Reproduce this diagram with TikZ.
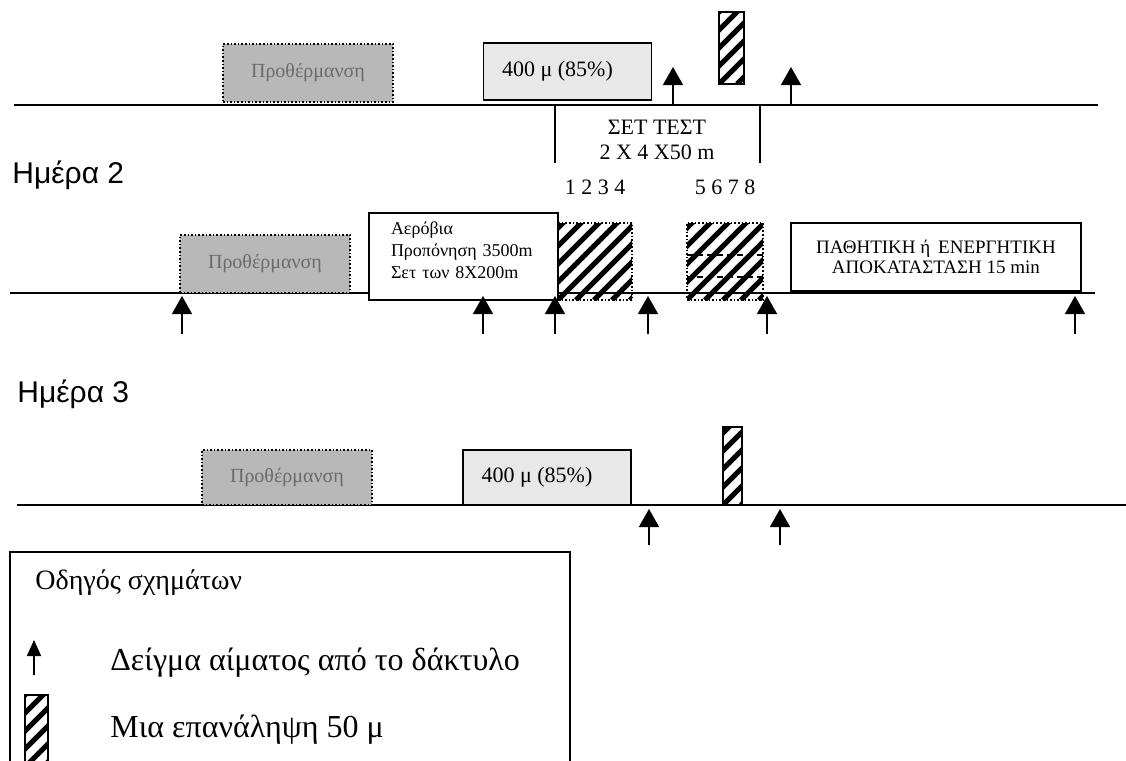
\documentclass[tikz,border=0pt]{standalone}
\usepackage{fontspec}
\setmainfont{Liberation Serif}
\setsansfont{Liberation Sans}
\usetikzlibrary{arrows.meta}
\definecolor{warmG}{gray}{0.72}
\definecolor{warmT}{gray}{0.42}
\definecolor{effG}{gray}{0.91}

\begin{document}
\begin{tikzpicture}[x=0.5pt,y=-0.5pt,
  warmbox/.style={draw,densely dotted,thick,fill=warmG,text=warmT,font=\fontsize{10}{12}\selectfont,minimum width=85pt,inner sep=0pt},
  effortbox/.style={draw,thick,fill=effG,font=\fontsize{11}{12}\selectfont,minimum width=84pt,inner sep=0pt},
  hatch/.style={path picture={\foreach \k in {-8,...,6}
    \draw[line width=2.5pt,solid] ([xshift=\k*9pt]path picture bounding box.south west) -- ++(60pt,60pt);}},
  repbar/.style={draw,thick,hatch,inner sep=0pt},
  sample/.style={-{Triangle[length=9pt,width=10pt]},line width=0.7pt},
  dayline/.style={line width=0.9pt},
  daylabel/.style={anchor=base west,inner sep=0pt,font=\sffamily\fontsize{15}{18}\selectfont}]
\useasboundingbox (0,0) rectangle (1126,761);
% day 1
\coordinate (l1a) at (14,105); \coordinate (l1b) at (1098,105);
\draw[dayline] (l1a) -- (l1b);
\node[warmbox,minimum height=29pt] (warm1) at (308,73) {Προθέρμανση};
\node[effortbox,minimum height=28.5pt] (eff1) at (567.5,71.5) {\hspace*{-10pt}400 μ (85\%)};
\node[repbar,minimum width=12.5pt,minimum height=36pt] (rep1) at (731.5,48) {};
\foreach \x [count=\i] in {673,791}{
  \coordinate (s1b\i) at (\x,105); \coordinate (s1t\i) at (\x,67);
  \draw[sample] (s1b\i) -- (s1t\i);}
\draw[thick] (555,163) -- (555,105) -- (760,105) -- (760,163);
\node[align=center,font=\fontsize{11}{12.5}\selectfont] (settest) at (657,140) {ΣΕΤ ΤΕΣΤ\\2 X 4 X50 m};
\node[font=\fontsize{11}{12}\selectfont] (num1) at (595,187) {1 2 3 4};
\node[font=\fontsize{11}{12}\selectfont] (num2) at (725,187) {5 6 7 8};
% day 2
\node[daylabel] (day2) at (12,183) {Ημέρα 2};
\coordinate (l2a) at (10,293); \coordinate (l2b) at (1095,293);
\draw[dayline] (l2a) -- (l2b);
\node[warmbox,minimum height=29pt] (warm2) at (265,264) {Προθέρμανση};
\node[draw,thick,fill=white,minimum width=94.5pt,minimum height=43.5pt,inner sep=0pt] (aero) at (463.5,256.5) {};
\node[text width=74pt,align=left,inner sep=0pt,font=\fontsize{9}{11}\selectfont] (aerotxt) at (465,250) {Αερόβια\\Προπόνηση 3500m\\Σετ των 8X200m};
\node[repbar,densely dotted,minimum width=37pt,minimum height=38.5pt] (set1) at (595,261.5) {};
\node[repbar,densely dotted,minimum width=38pt,minimum height=38.5pt] (set2) at (725,261.5) {};
\draw[densely dashed,thick] (687,255) -- (763,255) (687,277) -- (763,277);
\node[draw,thick,fill=white,minimum width=145pt,minimum height=34pt,align=center,font=\fontsize{9.5}{10}\selectfont] (rest) at (936,257) {ΠΑΘΗΤΙΚΗ ή\, ΕΝΕΡΓΗΤΙΚΗ\\ΑΠΟΚΑΤΑΣΤΑΣΗ 15 min};
\foreach \x [count=\i] in {182,483,555,648,767,1075}{
  \coordinate (s2b\i) at (\x,334); \coordinate (s2t\i) at (\x,296);
  \draw[sample] (s2b\i) -- (s2t\i);}
% day 3
\node[daylabel] (day3) at (17,402) {Ημέρα 3};
\coordinate (l3a) at (17,505); \coordinate (l3b) at (1126,505);
\draw[dayline] (l3a) -- (l3b);
\node[warmbox,minimum height=27.5pt] (warm3) at (287,477.5) {Προθέρμανση};
\node[effortbox,minimum height=27.5pt] (eff3) at (547,477.5) {\hspace*{-10pt}400 μ (85\%)};
\node[repbar,minimum width=9.5pt,minimum height=39pt] (rep3) at (732.5,466) {};
\foreach \x [count=\i] in {649,780}{
  \coordinate (s3b\i) at (\x,545); \coordinate (s3t\i) at (\x,509);
  \draw[sample] (s3b\i) -- (s3t\i);}
% legend
\draw[thick] (10,761) -- (10,552) -- (570,552) -- (570,761);
\node[anchor=west,inner sep=0pt,font=\fontsize{14}{16}\selectfont] (legtitle) at (35,583) {Οδηγός σχημάτων};
\coordinate (legb) at (34,675); \coordinate (legt) at (34,640);
\draw[-{Triangle[length=8pt,width=7pt]},line width=0.8pt] (legb) -- (legt);
\node[anchor=west,inner sep=0pt,font=\fontsize{16}{18}\selectfont] (legsample) at (110,663) {Δείγμα αίματος από το δάκτυλο};
\node[repbar,minimum width=11.5pt,minimum height=36pt] (legrep) at (36.5,731) {};
\node[anchor=west,inner sep=0pt,font=\fontsize{16}{18}\selectfont] (legrepeat) at (110,730) {Μια επανάληψη 50 μ};
\end{tikzpicture}
\end{document}
